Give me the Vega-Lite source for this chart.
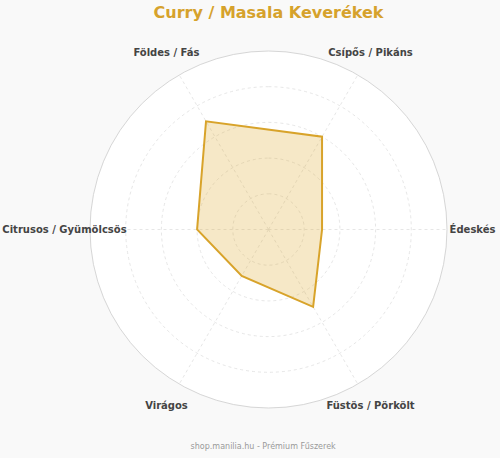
{
  "$schema": "https://vega.github.io/schema/vega-lite/v6.json",
  "width": 357,
  "height": 357,
  "autosize": "none",
  "padding": {"left": 90, "top": 51, "right": 53, "bottom": 50},
  "background": "#f9f9f9",
  "title": {
    "text": "Curry / Masala Keverékek",
    "font": "DejaVu Sans",
    "fontSize": 16,
    "fontWeight": "bold",
    "color": "#D6A22C",
    "anchor": "middle",
    "offset": 27
  },
  "config": {"view": {"stroke": null}},
  "datasets": {
    "profile": [
      {"axis": "Édeskés", "order": 0, "value": 3},
      {"axis": "Csípős / Pikáns", "order": 1, "value": 6},
      {"axis": "Földes / Fás", "order": 2, "value": 7},
      {"axis": "Citrusos / Gyümölcsös", "order": 3, "value": 4},
      {"axis": "Virágos", "order": 4, "value": 3},
      {"axis": "Füstös / Pörkölt", "order": 5, "value": 5}
    ],
    "rings": [
      {"r": 2}, {"r": 4}, {"r": 6}, {"r": 8}
    ],
    "outer": [{"r": 10}],
    "footer": [{"text": "shop.manilia.hu - Prémium Fűszerek"}]
  },
  "layer": [
    {
      "data": {"name": "outer"},
      "mark": {"type": "arc", "fill": "white", "stroke": "#d6d6d6", "strokeWidth": 1},
      "encoding": {
        "theta": {"value": 0},
        "theta2": {"value": 6.2832},
        "radius": {"field": "r", "type": "quantitative", "stack": null, "scale": {"type": "linear", "domain": [0, 10], "range": [0, 178.5], "zero": true}}
      }
    },
    {
      "data": {"name": "rings"},
      "mark": {"type": "arc", "filled": false, "stroke": "#e0e0e0", "strokeWidth": 0.8, "strokeDash": [3, 3]},
      "encoding": {
        "theta": {"value": 0},
        "theta2": {"value": 6.2832},
        "radius": {"field": "r", "type": "quantitative", "stack": null, "scale": {"type": "linear", "domain": [0, 10], "range": [0, 178.5], "zero": true}}
      }
    },
    {
      "data": {"name": "profile"},
      "transform": [
        {"calculate": "datum.order * PI / 3", "as": "angle"},
        {"calculate": "10 * cos(datum.angle)", "as": "sx"},
        {"calculate": "10 * sin(datum.angle)", "as": "sy"},
        {"calculate": "0", "as": "zero"}
      ],
      "mark": {"type": "rule", "stroke": "#e0e0e0", "strokeWidth": 0.8, "strokeDash": [3, 3]},
      "encoding": {
        "x": {"field": "zero", "type": "quantitative", "scale": {"domain": [-10, 10]}, "axis": null},
        "y": {"field": "zero", "type": "quantitative", "scale": {"domain": [-10, 10]}, "axis": null},
        "x2": {"field": "sx"},
        "y2": {"field": "sy"}
      }
    },
    {
      "data": {"name": "profile"},
      "transform": [
        {"calculate": "datum.order * PI / 3", "as": "angle"},
        {"calculate": "datum.value * cos(datum.angle)", "as": "px"},
        {"calculate": "datum.value * sin(datum.angle)", "as": "py"}
      ],
      "mark": {"type": "line", "interpolate": "linear-closed", "fill": "#DAA520", "fillOpacity": 0.25, "stroke": "#D8A32A", "strokeWidth": 2},
      "encoding": {
        "x": {"field": "px", "type": "quantitative", "scale": {"domain": [-10, 10]}, "axis": null},
        "y": {"field": "py", "type": "quantitative", "scale": {"domain": [-10, 10]}, "axis": null},
        "order": {"field": "order", "type": "quantitative"}
      }
    },
    {
      "data": {"name": "profile"},
      "transform": [
        {"calculate": "datum.order * PI / 3", "as": "angle"},
        {"calculate": "11.43 * cos(datum.angle)", "as": "lx"},
        {"calculate": "11.43 * sin(datum.angle)", "as": "ly"}
      ],
      "mark": {"type": "text", "font": "DejaVu Sans", "fontSize": 10, "fontWeight": "bold", "color": "#444444", "align": "center", "baseline": "middle"},
      "encoding": {
        "x": {"field": "lx", "type": "quantitative", "scale": {"domain": [-10, 10]}, "axis": null},
        "y": {"field": "ly", "type": "quantitative", "scale": {"domain": [-10, 10]}, "axis": null},
        "text": {"field": "axis"}
      }
    },
    {
      "data": {"name": "footer"},
      "transform": [
        {"calculate": "-0.3", "as": "fx"},
        {"calculate": "-12.18", "as": "fy"}
      ],
      "mark": {"type": "text", "font": "DejaVu Sans", "fontSize": 8, "color": "#9a9a9a", "align": "center", "baseline": "middle"},
      "encoding": {
        "x": {"field": "fx", "type": "quantitative", "scale": {"domain": [-10, 10]}, "axis": null},
        "y": {"field": "fy", "type": "quantitative", "scale": {"domain": [-10, 10]}, "axis": null},
        "text": {"field": "text"}
      }
    }
  ]
}
